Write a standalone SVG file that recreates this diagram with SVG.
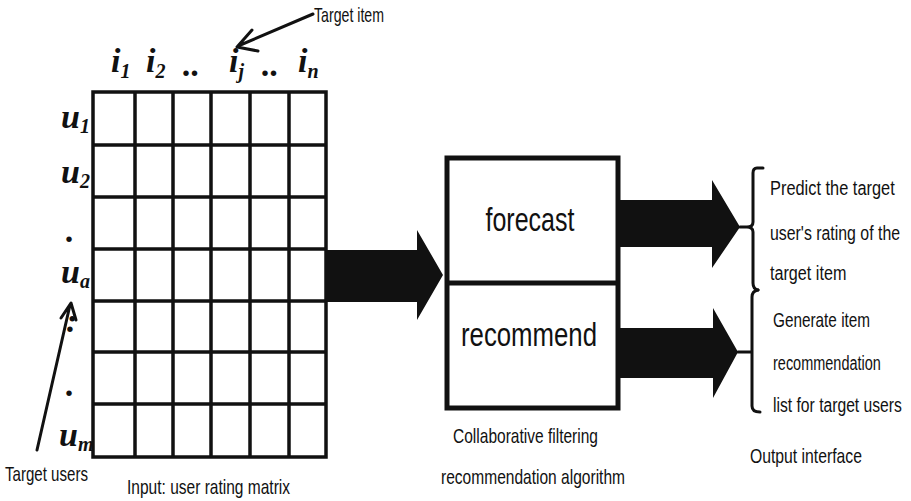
<svg xmlns="http://www.w3.org/2000/svg" width="911" height="501" viewBox="0 0 911 501">
  <style>
    .grid { fill: none; stroke: #111; stroke-width: 3.5; }
    .box { fill: #fff; stroke: #111; stroke-width: 5; }
    .fat { fill: #111; }
    .thin { fill: none; stroke: #111; stroke-width: 3; stroke-linecap: round; stroke-linejoin: round; }
    .lbl { font-family: "Liberation Sans", Arial, sans-serif; font-size: 21px; fill: #111; }
    .big { font-family: "Liberation Sans", Arial, sans-serif; font-size: 34px; fill: #111; }
    .math { font-family: "Liberation Serif", "Times New Roman", serif; font-style: italic; font-weight: bold; font-size: 34px; fill: #111; }
    .sub { font-size: 20px; }
  </style>

  <rect width="911" height="501" fill="#fff"/>

  <!-- user rating matrix -->
  <g id="matrix">
    <rect class="grid" x="93" y="92" width="233" height="365" stroke-width="4"/>
    <path class="grid" d="M135,92V457 M173,92V457 M211,92V457 M250,92V457 M289,92V457
                          M93,145H326 M93,197H326 M93,249H326 M93,301H326 M93,352H326 M93,404H326"/>
    <!-- item headers -->
    <text class="math" x="111" y="72">i<tspan class="sub" dy="6">1</tspan></text>
    <text class="math" x="146" y="72">i<tspan class="sub" dy="6">2</tspan></text>
    <text class="math" x="183" y="76">..</text>
    <text class="math" x="229" y="72">i<tspan class="sub" dy="6">j</tspan></text>
    <text class="math" x="262" y="76">..</text>
    <text class="math" x="298" y="72">i<tspan class="sub" dy="6">n</tspan></text>
    <!-- user headers -->
    <text class="math" x="61" y="128" font-size="32">u<tspan class="sub" dy="5">1</tspan></text>
    <text class="math" x="61" y="183" font-size="32">u<tspan class="sub" dy="5">2</tspan></text>
    <text class="math" x="66" y="242">.</text>
    <text class="math" x="61" y="283" font-size="32">u<tspan class="sub" dy="5">a</tspan></text>
    <text class="math" x="66" y="332">:</text>
    <text class="math" x="66" y="396">.</text>
    <text class="math" x="59" y="446" font-size="32">u<tspan class="sub" dy="5">m</tspan></text>
    <text class="lbl" x="127" y="494" textLength="163" lengthAdjust="spacingAndGlyphs">Input: user rating matrix</text>
  </g>

  <!-- pointer labels -->
  <g id="target-item">
    <text class="lbl" x="314" y="22" textLength="70" lengthAdjust="spacingAndGlyphs">Target item</text>
  </g>
  <g id="target-users">
    <text class="lbl" x="5" y="481" textLength="83" lengthAdjust="spacingAndGlyphs">Target users</text>
  </g>

  <!-- collaborative filtering algorithm -->
  <g id="algorithm">
    <rect class="box" x="447" y="158" width="171" height="250"/>
    <line x1="447" y1="283" x2="618" y2="283" stroke="#111" stroke-width="5"/>
    <text class="big" x="530" y="231" text-anchor="middle" textLength="89" lengthAdjust="spacingAndGlyphs">forecast</text>
    <text class="big" x="529" y="346" text-anchor="middle" textLength="136" lengthAdjust="spacingAndGlyphs">recommend</text>
    <text class="lbl" x="453" y="443" textLength="145" lengthAdjust="spacingAndGlyphs">Collaborative filtering</text>
    <text class="lbl" x="441" y="484" textLength="184" lengthAdjust="spacingAndGlyphs">recommendation algorithm</text>
  </g>

  <!-- output interface (narrowed horizontally) -->
  <g id="output">
    <text class="lbl" transform="translate(770,195) scale(0.78,1)">Predict the target</text>
    <text class="lbl" transform="translate(770,240) scale(0.756,1)">user's rating of the</text>
    <text class="lbl" transform="translate(770,280) scale(0.77,1)">target item</text>
    <text class="lbl" transform="translate(773,327) scale(0.73,1)">Generate item</text>
    <text class="lbl" transform="translate(773,370) scale(0.69,1)">recommendation</text>
    <text class="lbl" transform="translate(773,412) scale(0.747,1)">list for target users</text>
    <text class="lbl" transform="translate(750,463) scale(0.75,1)">Output interface</text>
  </g>

  <!-- connectors -->
  <g id="connectors">
    <!-- pointer arrows -->
    <path class="thin" d="M313,14 L238,46 M252,30 L237,47 L258,51"/>
    <path class="thin" d="M37,450 L70,305 M61,318 L71,303 L76,320"/>
    <!-- block arrows -->
    <polygon class="fat" points="326,250 417,250 417,230 443,275 417,320 417,302 326,302"/>
    <polygon class="fat" points="620,200 712,200 712,180 740,227 712,268 712,247 620,247"/>
    <polygon class="fat" points="620,328 713,328 713,308 738,352 713,398 713,378 620,378"/>
    <!-- braces -->
    <path class="thin" d="M763,168 L757,168 Q753,168 753,173 L753,222 Q753,227 747,227 L740,227
                          M747,227 Q753,227 753,232 L753,283 Q753,289 758,290"/>
    <path class="thin" d="M758,290 Q752,291 752,297 L752,406 Q752,412 760,412 M738,352 L752,352"/>
  </g>
</svg>
